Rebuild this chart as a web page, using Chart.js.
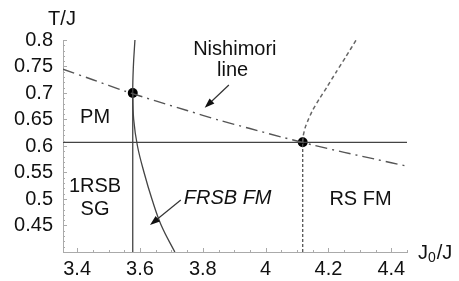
<!DOCTYPE html>
<html>
<head>
<meta charset="utf-8">
<script src="https://cdn.jsdelivr.net/npm/chart.js@4"></script>
<style>
  html, body { margin: 0; padding: 0; background: #fff; }
  #wrap { width: 459px; height: 281px; }
</style>
</head>
<body>
<div id="wrap"><canvas id="myChart" width="459" height="281"></canvas></div>
<script>
// axis ticks
var j0Ticks = [3.4, 3.6, 3.8, 4.0, 4.2, 4.4];
var tTicks = [0.45, 0.5, 0.55, 0.6, 0.65, 0.7, 0.75, 0.8];

// Nishimori line (dash-dot)
var nishJ0 = [3.355, 3.45, 3.55, 3.65, 3.75, 3.85, 3.95, 4.05, 4.15, 4.25, 4.35, 4.45];
var nishT  = [0.745, 0.725, 0.704, 0.685, 0.667, 0.649, 0.633, 0.617, 0.602, 0.588, 0.575, 0.562];

// FRSB FM boundary (solid curve)
var frsbJ0 = [3.584, 3.579, 3.577, 3.580, 3.592, 3.613, 3.638, 3.668, 3.711];
var frsbT  = [0.80, 0.75, 0.70, 0.65, 0.60, 0.55, 0.50, 0.45, 0.40];

// RS FM boundary (dashed curve)
var rsJ0 = [4.118, 4.120, 4.126, 4.136, 4.150, 4.170, 4.195, 4.225, 4.255, 4.288];
var rsT  = [0.607, 0.620, 0.635, 0.650, 0.668, 0.688, 0.711, 0.740, 0.768, 0.800];

// straight boundaries
var sgJ0 = [3.577, 3.577];   var sgT = [0.40, 0.70];
var pmJ0 = [3.355, 4.45];    var pmT = [0.607, 0.607];
var fmJ0 = [4.118, 4.118];   var fmT = [0.40, 0.607];

// multicritical points
var dotJ0 = [3.577, 4.118];
var dotT  = [0.70, 0.607];

// region labels
var labels = [
  {text: "Nishimori", x: 3.902, y: 0.782, italic: false},
  {text: "line",      x: 3.895, y: 0.742, italic: false},
  {text: "PM",        x: 3.457, y: 0.653, italic: false},
  {text: "1RSB",      x: 3.457, y: 0.523, italic: false},
  {text: "SG",        x: 3.457, y: 0.481, italic: false},
  {text: "FRSB FM",   x: 3.879, y: 0.502, italic: true},
  {text: "RS FM",     x: 4.302, y: 0.500, italic: false}
];
var arrows = [
  {x0: 3.883, y0: 0.715, x1: 3.806, y1: 0.672},
  {x0: 3.730, y0: 0.498, x1: 3.632, y1: 0.451}
];

function pts(xs, ys) {
  return xs.map(function (x, i) { return {x: x, y: ys[i]}; });
}

var FONT = "'Liberation Sans', Arial, Helvetica, sans-serif";

var extras = {
  id: "extras",
  afterDraw: function (chart) {
    var ctx = chart.ctx, xs = chart.scales.x, ys = chart.scales.y, a = chart.chartArea;
    ctx.save();
    // inward tick marks
    ctx.strokeStyle = "#aaa";
    ctx.lineWidth = 1;
    ctx.beginPath();
    for (var v = 3.4; v <= 4.45; v += 0.05) {
      var px = Math.round(xs.getPixelForValue(v)) + 0.5;
      var major = Math.abs(Math.round(v / 0.2) * 0.2 - v) < 1e-6;
      ctx.moveTo(px, a.bottom);
      ctx.lineTo(px, a.bottom - (major ? 4 : 2));
    }
    for (var w = 0.4; w <= 0.8001; w += 0.01) {
      var py = Math.round(ys.getPixelForValue(w)) + 0.5;
      var maj = Math.abs(Math.round(w / 0.05) * 0.05 - w) < 1e-6;
      ctx.moveTo(a.left, py);
      ctx.lineTo(a.left + (maj ? 4 : 2), py);
    }
    ctx.stroke();

    // text labels
    ctx.fillStyle = "#111";
    ctx.textAlign = "center";
    ctx.textBaseline = "middle";
    labels.forEach(function (l) {
      ctx.font = (l.italic ? "italic " : "") + "20px " + FONT;
      ctx.fillText(l.text, xs.getPixelForValue(l.x), ys.getPixelForValue(l.y));
    });

    // arrows
    ctx.strokeStyle = "#333";
    ctx.fillStyle = "#111";
    ctx.lineWidth = 1.2;
    arrows.forEach(function (r) {
      var x0 = xs.getPixelForValue(r.x0), y0 = ys.getPixelForValue(r.y0);
      var x1 = xs.getPixelForValue(r.x1), y1 = ys.getPixelForValue(r.y1);
      var ang = Math.atan2(y1 - y0, x1 - x0);
      ctx.beginPath();
      ctx.moveTo(x0, y0);
      ctx.lineTo(x1 - 6 * Math.cos(ang), y1 - 6 * Math.sin(ang));
      ctx.stroke();
      ctx.beginPath();
      ctx.moveTo(x1, y1);
      ctx.lineTo(x1 - 10 * Math.cos(ang) + 3.5 * Math.sin(ang), y1 - 10 * Math.sin(ang) - 3.5 * Math.cos(ang));
      ctx.lineTo(x1 - 10 * Math.cos(ang) - 3.5 * Math.sin(ang), y1 - 10 * Math.sin(ang) + 3.5 * Math.cos(ang));
      ctx.closePath();
      ctx.fill();
    });

    // axis titles
    ctx.fillStyle = "#111";
    ctx.font = "20px " + FONT;
    ctx.textAlign = "center";
    ctx.textBaseline = "alphabetic";
    ctx.fillText("T/J", a.left - 1, 25);
    ctx.textAlign = "left";
    var bx = a.right + 11, by = a.bottom + 7;
    ctx.fillText("J", bx, by);
    var jw = ctx.measureText("J").width;
    ctx.font = "14px " + FONT;
    ctx.fillText("0", bx + jw, by + 3);
    var zw = ctx.measureText("0").width;
    ctx.font = "20px " + FONT;
    ctx.fillText("/J", bx + jw + zw + 1, by);
    ctx.restore();
  }
};

new Chart("myChart", {
  type: "scatter",
  data: {
    datasets: [
      {data: pts(nishJ0, nishT), showLine: true, borderColor: "#555", borderWidth: 1.4,
       borderDash: [12, 5, 2, 5], pointRadius: 0, tension: 0.3},
      {data: pts(frsbJ0, frsbT), showLine: true, borderColor: "#444", borderWidth: 1.3,
       pointRadius: 0, tension: 0.4},
      {data: pts(rsJ0, rsT), showLine: true, borderColor: "#666", borderWidth: 1.5,
       borderDash: [4, 3], pointRadius: 0, tension: 0.2},
      {data: pts(sgJ0, sgT), showLine: true, borderColor: "#444", borderWidth: 1.3, pointRadius: 0},
      {data: pts(pmJ0, pmT), showLine: true, borderColor: "#444", borderWidth: 1.3, pointRadius: 0},
      {data: pts(fmJ0, fmT), showLine: true, borderColor: "#555", borderWidth: 1.3,
       borderDash: [3, 2], pointRadius: 0},
      {data: pts(dotJ0, dotT), showLine: false, pointRadius: 5, pointBackgroundColor: "#000",
       pointBorderWidth: 0}
    ]
  },
  options: {
    responsive: false,
    animation: false,
    events: [],
    layout: {padding: {left: 0, top: 40, right: 52, bottom: 0}},
    plugins: {legend: {display: false}, tooltip: {enabled: false}},
    scales: {
      x: {
        type: "linear", min: 3.355, max: 4.45,
        afterBuildTicks: function (s) { s.ticks = j0Ticks.map(function (v) { return {value: v}; }); },
        afterFit: function (s) { s.height = 29; },
        grid: {display: false, drawTicks: false},
        border: {display: true, color: "#aaa", width: 1},
        ticks: {padding: 5, color: "#111", font: {size: 20, family: FONT},
                maxRotation: 0, autoSkip: false,
                callback: function (v) { return String(v); }}
      },
      y: {
        type: "linear", min: 0.4, max: 0.8,
        afterBuildTicks: function (s) { s.ticks = tTicks.map(function (v) { return {value: v}; }); },
        afterFit: function (s) { s.width = 63; },
        grid: {display: false, drawTicks: false},
        border: {display: true, color: "#aaa", width: 1},
        ticks: {padding: 10, color: "#111", font: {size: 20, family: FONT},
                autoSkip: false,
                callback: function (v) { return String(v); }}
      }
    }
  },
  plugins: [extras]
});
</script>
</body>
</html>
